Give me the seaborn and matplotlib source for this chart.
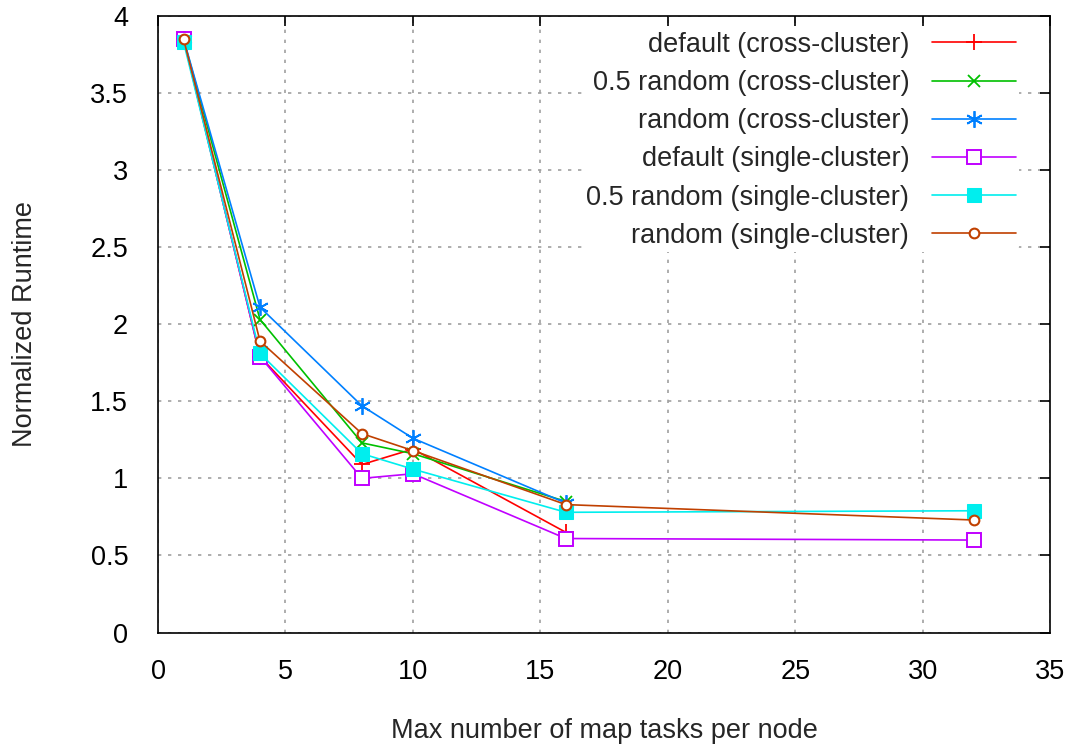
import matplotlib
matplotlib.use("Agg")
import matplotlib.pyplot as plt
import seaborn as sns
import pandas as pd

x_cross = [1, 4, 8, 10, 16]
x_single = [1, 4, 8, 10, 16, 32]

default_cross = [3.85, 1.79, 1.09, 1.19, 0.65]
half_cross = [3.85, 2.03, 1.23, 1.16, 0.85]
random_cross = [3.85, 2.11, 1.47, 1.26, 0.84]
default_single = [3.85, 1.79, 1.00, 1.03, 0.61, 0.60]
half_single = [3.83, 1.81, 1.16, 1.06, 0.78, 0.79]
random_single = [3.85, 1.89, 1.29, 1.18, 0.83, 0.73]

labels = ["default (cross-cluster)", "0.5 random (cross-cluster)", "random (cross-cluster)",
          "default (single-cluster)", "0.5 random (single-cluster)", "random (single-cluster)"]

series = [
    (x_cross, default_cross, "#ff0000", dict(marker="+", ms=11, mew=1.3)),
    (x_cross, half_cross, "#00c000", dict(marker="x", ms=9, mew=1.3)),
    (x_cross, random_cross, "#0080ff", dict(marker=(6, 2, 0), ms=12, mew=1.3)),
    (x_single, default_single, "#c000ff", dict(marker="s", ms=9.5, mfc="white", mew=1.4)),
    (x_single, half_single, "#00eeee", dict(marker="s", ms=9.5)),
    (x_single, random_single, "#c04000", dict(marker="o", ms=7, mfc="white", mew=1.5)),
]

sns.set_theme(style="white")
plt.rcParams["font.family"] = ["Liberation Sans", "DejaVu Sans"]

fs = 19.5
fig, ax = plt.subplots(figsize=(10.75, 7.46), dpi=100)
fig.subplots_adjust(left=0.147, right=0.977, top=0.979, bottom=0.152)

for (xs, ys, col, mk), lab in zip(series, labels):
    df = pd.DataFrame({"x": xs, "y": ys})
    sns.lineplot(data=df, x="x", y="y", color=col, label=lab, lw=1.2,
                 markeredgecolor=col, ax=ax, **mk)

ax.set_xlim(0, 35)
ax.set_ylim(0, 4)
ax.set_xticks(range(0, 36, 5))
ax.set_yticks([0, 0.5, 1, 1.5, 2, 2.5, 3, 3.5, 4])
ax.set_yticklabels(["0", "0.5", "1", "1.5", "2", "2.5", "3", "3.5", "4"])
ax.grid(True, color="#a0a0a0", linestyle=(0, (2, 4)), linewidth=1.2)
ax.tick_params(direction="in", length=7, width=1.2, top=True, right=True,
               labelsize=fs, colors="black")
ax.tick_params(axis="y", pad=21.5)
ax.tick_params(axis="x", pad=19)
for s in ax.spines.values():
    s.set_color("black")
    s.set_linewidth(1.2)

ax.set_xlabel("Max number of map tasks per node", fontsize=fs)
ax.set_ylabel("Normalized Runtime", fontsize=fs)
ax.xaxis.set_label_coords(0.5, -0.139)
ax.yaxis.set_label_coords(-0.135, 0.5)

leg = ax.legend(loc="upper right", bbox_to_anchor=(0.98, 1.0), markerfirst=False,
                fontsize=fs, frameon=True, framealpha=1, facecolor="white",
                edgecolor="none", handlelength=3.1, labelspacing=0.45,
                borderpad=0.1, handletextpad=0.85)
leg.get_frame().set_linewidth(0)

fig.savefig("out.png", dpi=100)
